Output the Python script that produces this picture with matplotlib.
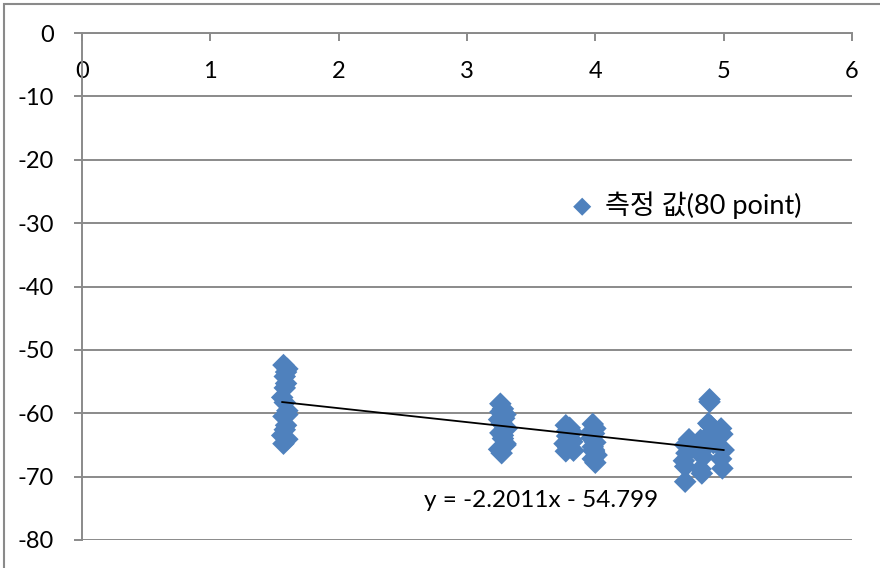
import matplotlib
matplotlib.use("Agg")
import matplotlib.pyplot as plt
from matplotlib.patches import Rectangle

# Measured values, grouped by position
c1_x = [1.57, 1.60, 1.58, 1.59, 1.56, 1.58, 1.60, 1.57, 1.59, 1.58, 1.56, 1.60, 1.57, 1.59, 1.58, 1.60]
c1_y = [-52.4, -53.0, -54.2, -55.3, -57.5, -58.3, -59.6, -60.5, -61.9, -62.6, -63.5, -64.1, -64.8, -53.5, -56.0, -60.2]

c2_x = [3.26, 3.28, 3.30, 3.25, 3.27, 3.29, 3.31, 3.26, 3.28, 3.30, 3.25, 3.27, 3.29, 3.26, 3.28, 3.30]
c2_y = [-58.5, -59.3, -60.2, -61.0, -61.6, -60.8, -62.4, -63.1, -64.0, -64.8, -65.7, -66.3, -62.0, -59.8, -63.5, -65.0]

c3_x = [3.77, 3.80, 3.82, 3.78, 3.81, 3.76, 3.79, 3.83, 3.78, 3.80, 3.82, 3.77]
c3_y = [-61.9, -62.3, -63.0, -63.6, -64.1, -64.8, -65.4, -65.9, -62.8, -63.3, -64.5, -66.0]

c4_x = [3.98, 4.00, 3.99, 3.97, 4.00, 3.98, 3.99, 4.01, 3.98, 4.00, 3.97, 3.99]
c4_y = [-61.7, -62.4, -63.2, -63.9, -64.6, -65.3, -66.0, -66.6, -67.2, -67.8, -62.9, -65.8]

c5_x = [4.89, 4.89, 4.88, 4.90, 4.98, 4.99, 5.00, 4.99, 4.98, 4.83, 4.82, 4.70,
        4.70, 4.71, 4.70, 4.69, 4.82, 4.87, 4.92, 4.78, 4.84, 4.95, 4.86, 4.73]
c5_y = [-58.2, -57.8, -61.6, -62.0, -62.4, -63.3, -65.8, -68.7, -67.2, -69.5, -68.8, -70.8,
        -68.4, -66.3, -65.0, -67.5, -64.2, -63.7, -64.7, -65.5, -66.9, -63.0, -65.3, -64.1]

# Linear trendline coefficients
slope = -2.2011
intercept = -54.799

series_label = "측정 값(80 point)"
x_ticks = [0, 1, 2, 3, 4, 5, 6]
y_ticks = [0, -10, -20, -30, -40, -50, -60, -70, -80]

xs = c1_x + c2_x + c3_x + c4_x + c5_x
ys = c1_y + c2_y + c3_y + c4_y + c5_y

GRAY = "#8a8a8a"
BLUE = "#4F81BD"
FONT = ["Lato", "Noto Sans CJK KR", "DejaVu Sans"]
FS = 17

plt.rcParams["font.family"] = FONT

W, H = 880, 568
fig = plt.figure(figsize=(W / 100, H / 100), dpi=100)
ax = fig.add_axes([82 / W, 28 / H, 770 / W, 507 / H])

ax.set_xlim(0, 6)
ax.set_ylim(-80, 0)

ax.scatter(xs, ys, marker="D", s=11.5 ** 2, color=BLUE, edgecolors="none",
           zorder=3, label=series_label)

x0, x1 = min(xs), max(xs)
ax.plot([x0, x1], [slope * x0 + intercept, slope * x1 + intercept],
        color="black", lw=1.3, zorder=4)

ax.text(2.665, -73.7, f"y = {slope}x - {abs(intercept)}", fontsize=17.5,
        ha="left", va="center", color="black")

# axes styling
for side in ("bottom", "right"):
    ax.spines[side].set_visible(False)
for side in ("top", "left"):
    ax.spines[side].set_color(GRAY)
    ax.spines[side].set_linewidth(1.4)

ax.set_yticks(y_ticks)
ax.set_yticklabels([str(v) for v in y_ticks])
ax.set_xticks(x_ticks)
ax.set_xticklabels([str(v) for v in x_ticks])

ax.xaxis.set_ticks_position("top")
ax.tick_params(axis="x", direction="in", length=6, width=1.4, color=GRAY,
               labelsize=FS, pad=-35, labeltop=True, labelbottom=False)
ax.tick_params(axis="y", direction="out", length=6, width=1.4, color=GRAY,
               labelsize=FS, pad=14)

ax.yaxis.grid(True, color=GRAY, lw=1.4)
ax.set_axisbelow(True)

ax.legend(loc="center left", bbox_to_anchor=(570 / W, 1 - 205 / H),
          bbox_transform=fig.transFigure, frameon=False, fontsize=19.5,
          borderpad=0, borderaxespad=0, handlelength=0.9, handletextpad=0.4,
          scatterpoints=1, markerscale=0.8)

# chart area frame
fig.add_artist(Rectangle((4 / W, -0.2), 1.5, 1.2 - 4 / H, transform=fig.transFigure,
                         fill=False, edgecolor=GRAY, lw=1.5))

fig.savefig("out.png", dpi=100)
